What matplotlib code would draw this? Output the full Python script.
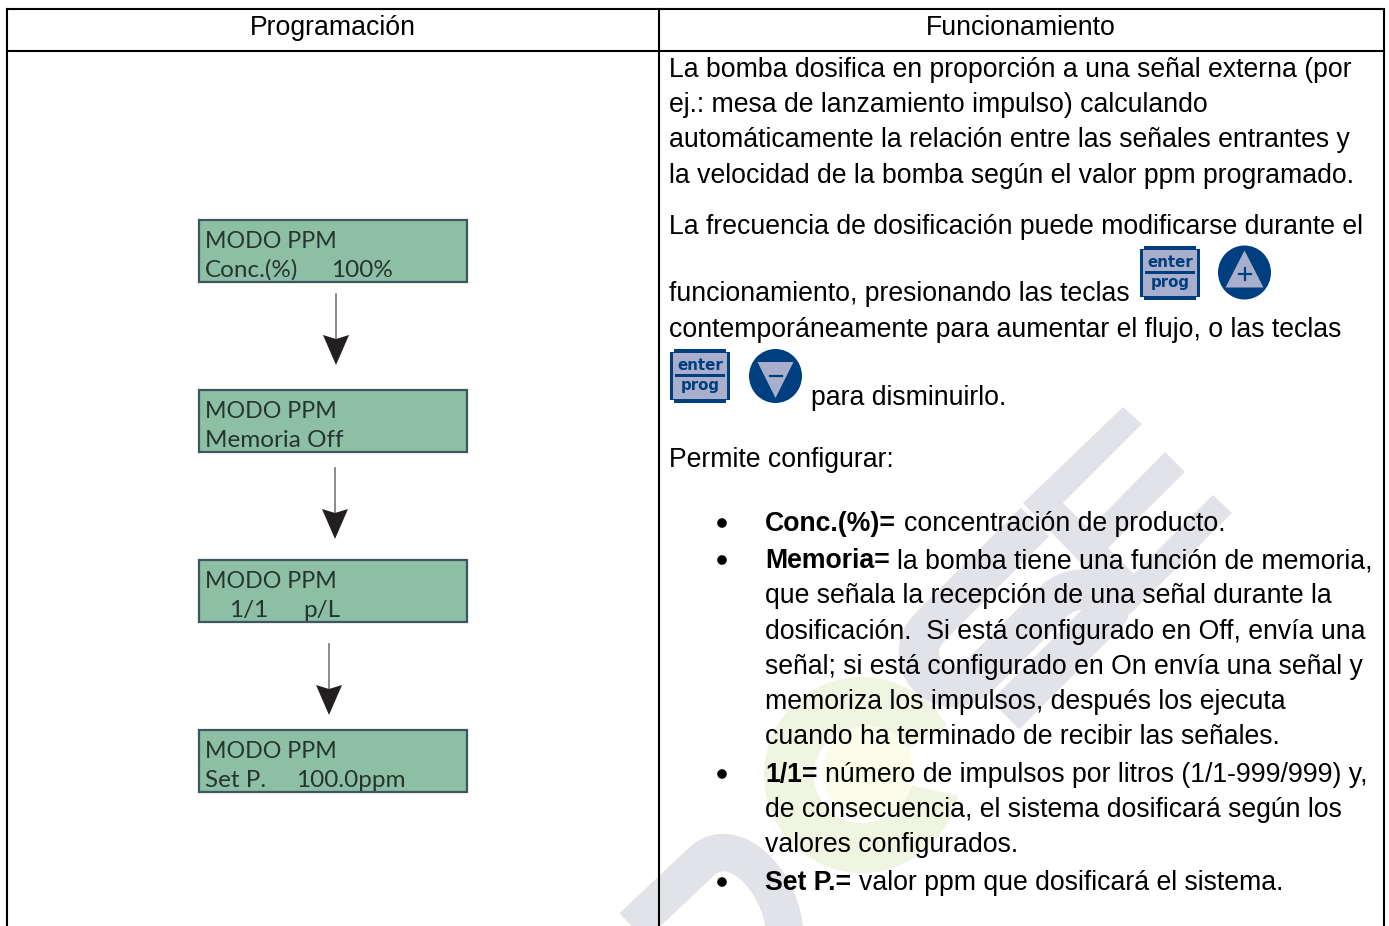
import matplotlib
matplotlib.use("Agg")
import matplotlib.pyplot as plt
from matplotlib.patches import Rectangle, Polygon, Circle, Ellipse, Wedge, PathPatch
from matplotlib.path import Path

# === Contenu ===
HEADERS = ["Programación", "Funcionamiento"]
LCD_LINE1 = ["MODO PPM", "MODO PPM", "MODO PPM", "MODO PPM"]
LCD_LINE2 = [["Conc.(%)", "100%"], ["Memoria Off"], ["1/1", "p/L"], ["Set P.", "100.0ppm"]]
LCD_LINE2_X = [[205, 331], [205], [229, 303], [205, 296]]
LCD_TOP = [220, 390, 560, 730]
ARROW_X = [336, 335, 329]
ARROW_TOP = [294, 468, 644]

PLAIN_LINES = [
    ("La bomba dosifica en proporción a una señal externa (por", 669, 77),
    ("ej.: mesa de lanzamiento impulso) calculando", 669, 112),
    ("automáticamente la relación entre las señales entrantes y", 669, 147),
    ("la velocidad de la bomba según el valor ppm programado.", 669, 183),
    ("La frecuencia de dosificación puede modificarse durante el", 669, 234),
    ("funcionamiento, presionando las teclas", 669, 301),
    ("contemporáneamente para aumentar el flujo, o las teclas", 669, 337),
    ("para disminuirlo.", 811, 405),
    ("Permite configurar:", 669, 467),
]
BULLET_Y = [531, 568, 782, 890]
BULLET_BOLD = ["Conc.(%)=", "Memoria=", "1/1=", "Set P.="]
BULLET_REST = ["concentración de producto.", "la bomba tiene una función de memoria,",
               "número de impulsos por litros (1/1-999/999) y,", "valor ppm que dosificará el sistema."]
CONT_LINES = [
    ("que señala la recepción de una señal durante la", 603),
    ("dosificación.  Si está configurado en Off, envía una", 639),
    ("señal; si está configurado en On envía una señal y", 674),
    ("memoriza los impulsos, después los ejecuta", 709),
    ("cuando ha terminado de recibir las señales.", 744),
    ("de consecuencia, el sistema dosificará según los", 817),
    ("valores configurados.", 852),
]

FS = 19.17
NAVY = "#003F7F"
KEY_FILL = "#A8AECB"
GREY = "#E2E3E8"

plt.rcParams["font.family"] = ["Liberation Sans", "DejaVu Sans"]
fig = plt.figure(figsize=(13.89, 9.26), dpi=100)
ax = fig.add_axes([0, 0, 1, 1])
ax.set_xlim(0, 1389)
ax.set_ylim(926, 0)
ax.axis("off")

# === Filigrane ===
ax.add_patch(Wedge((862, 775), 98, 12, 330, width=50, fc="#EFF5E1", ec="none", zorder=1))
ax.add_patch(Circle((868, 772), 46, fc="#FCFCEA", ec="none", zorder=1))
E_SHAPE = [(1123, 407), (1142, 424), (1063, 503), (1089, 529), (1165, 452), (1185, 472),
           (1108, 548), (1134, 574), (1213, 495), (1232, 513), (1130, 614), (1023, 503)]
ax.add_patch(Polygon(E_SHAPE, fc=GREY, ec="none", zorder=2))
s_path = Path([(1035, 522), (930, 627), (900, 657), (935, 705), (975, 680),
               (1055, 600), (1085, 575), (1130, 600), (1100, 620), (1005, 715)],
              [Path.MOVETO, Path.LINETO, Path.CURVE4, Path.CURVE4, Path.CURVE4,
               Path.LINETO, Path.CURVE4, Path.CURVE4, Path.CURVE4, Path.LINETO])
ax.add_patch(PathPatch(s_path, fc="none", ec=GREY, lw=29, capstyle="butt", zorder=2))
arc_path = Path([(610, 948), (700, 863), (735, 828), (790, 888), (785, 948)],
                [Path.MOVETO, Path.LINETO, Path.CURVE4, Path.CURVE4, Path.CURVE4])
ax.add_patch(PathPatch(arc_path, fc="none", ec=GREY, lw=27, capstyle="butt", zorder=2))

# === Tableau ===
for x0, y0, x1, y1 in [(7, 9, 1384, 9), (7, 51, 1384, 51), (7, 9, 7, 926),
                       (659, 9, 659, 926), (1384, 9, 1384, 926)]:
    ax.plot([x0, x1], [y0, y1], color="black", lw=1.5, zorder=5, solid_capstyle="projecting")
ax.text(333, 35, HEADERS[0], fontsize=FS, ha="center", va="baseline", zorder=6)
ax.text(1021, 35, HEADERS[1], fontsize=FS, ha="center", va="baseline", zorder=6)

# === Afficheurs LCD ===
for i, top in enumerate(LCD_TOP):
    ax.add_patch(Rectangle((199, top), 268, 62, fc="#8CBFA4", ec="#3F5560", lw=1.6, zorder=3))
    ax.text(205, top + 28, LCD_LINE1[i], family="Lato", fontsize=16.7, color="#26352F",
            va="baseline", zorder=4)
    for s, x in zip(LCD_LINE2[i], LCD_LINE2_X[i]):
        ax.text(x, top + 57, s, family="Lato", fontsize=17.5, color="#26352F",
                va="baseline", zorder=4)

# === Flèches ===
for x, top in zip(ARROW_X, ARROW_TOP):
    ax.plot([x, x], [top, top + 45], color="#777777", lw=1.2, zorder=3)
    ax.add_patch(Polygon([(x - 13, top + 41), (x, top + 45), (x + 13, top + 41), (x, top + 71)],
                         fc="#231F20", ec="none", zorder=4))


# === Icônes ===
def key(x, y):
    w, h = 60, 54
    ax.add_patch(Polygon([(x + 4, y), (x + w - 4, y), (x + w - 4, y + 3), (x + w, y + 3),
                          (x + w, y + h - 3), (x + w - 4, y + h - 3), (x + w - 4, y + h),
                          (x + 4, y + h), (x + 4, y + h - 3), (x, y + h - 3), (x, y + 3), (x + 4, y + 3)],
                         fc=NAVY, ec="none", zorder=6))
    ax.add_patch(Rectangle((x + 3, y + 4), w - 6, h - 8, fc=KEY_FILL, ec="none", zorder=6))
    ax.add_patch(Rectangle((x + 5, y + 25), w - 10, 3, fc=NAVY, ec="none", zorder=7))
    ax.text(x + w / 2, y + 21, "enter", family="DejaVu Sans", weight="bold", fontsize=10.8,
            color=NAVY, ha="center", va="baseline", zorder=7)
    ax.text(x + w / 2, y + 41, "prog", family="DejaVu Sans", weight="bold", fontsize=10.8,
            color=NAVY, ha="center", va="baseline", zorder=7)


def round_btn(cx, cy, up):
    ax.add_patch(Ellipse((cx, cy), 53, 54, fc=NAVY, ec="none", zorder=6))
    if up:
        tri = [(cx, cy - 22), (cx - 19, cy + 15), (cx + 19, cy + 15)]
    else:
        tri = [(cx - 18, cy - 14), (cx + 18, cy - 14), (cx, cy + 22)]
    ax.add_patch(Polygon(tri, fc=KEY_FILL, ec="none", zorder=7))
    ax.plot([cx - 6, cx + 6], [cy + (1 if up else -0.5)] * 2, color=NAVY, lw=1.6, zorder=8)
    if up:
        ax.plot([cx, cx], [cy - 5, cy + 7], color=NAVY, lw=1.6, zorder=8)


key(1140, 246)
round_btn(1244.5, 272.5, True)
key(670, 349)
round_btn(775.5, 376, False)

# === Texte ===
for s, x, y in PLAIN_LINES:
    ax.text(x, y, s, fontsize=FS, va="baseline", zorder=6)
for s, y in CONT_LINES:
    ax.text(765, y, s, fontsize=FS, va="baseline", zorder=6)

renderer = fig.canvas.get_renderer()
for y, bold, rest in zip(BULLET_Y, BULLET_BOLD, BULLET_REST):
    ax.add_patch(Circle((722, y - 8), 4.8, fc="black", ec="none", zorder=6))
    t = ax.text(765, y, bold, fontsize=FS, weight="bold", va="baseline", zorder=6)
    bb = t.get_window_extent(renderer)
    ax.text(bb.x1 + 7.5, y, rest, fontsize=FS, va="baseline", zorder=6)

fig.savefig("out.png", dpi=100)
